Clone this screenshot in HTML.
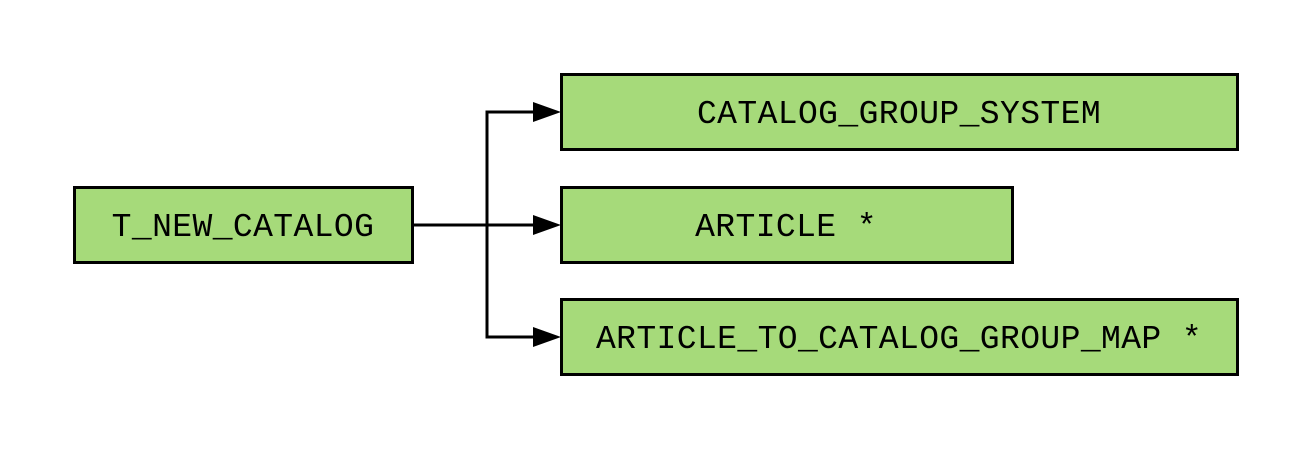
<!DOCTYPE html>
<html><head><style>html,body{margin:0;padding:0;background:#fff}</style></head>
<body>
<svg width="1313" height="450" viewBox="0 0 1313 450" xmlns="http://www.w3.org/2000/svg">
<g fill="#a6da7a" stroke="#000" stroke-width="3">
<rect x="74.5" y="187.5" width="338" height="75"/>
<rect x="561.5" y="74.5" width="676" height="75"/>
<rect x="561.5" y="187.5" width="451" height="75"/>
<rect x="561.5" y="299.5" width="676" height="75"/>
</g>
<g stroke="#000" stroke-width="3" fill="none">
<path d="M412 225 H535"/>
<path d="M487 225 V112 H535"/>
<path d="M487 225 V337 H535"/>
</g>
<g fill="#000">
<polygon points="533,102 561,112 533,122"/>
<polygon points="533,215 561,225 533,235"/>
<polygon points="533,327 561,337 533,347"/>
</g>
<g font-family="Liberation Mono, monospace" font-size="33" letter-spacing="0.4" text-anchor="middle" fill="#000">
<text x="243" y="236">T_NEW_CATALOG</text>
<text x="899" y="123">CATALOG_GROUP_SYSTEM</text>
<text x="786" y="236">ARTICLE *</text>
<text x="899" y="348">ARTICLE_TO_CATALOG_GROUP_MAP *</text>
</g>
</svg>
</body></html>
